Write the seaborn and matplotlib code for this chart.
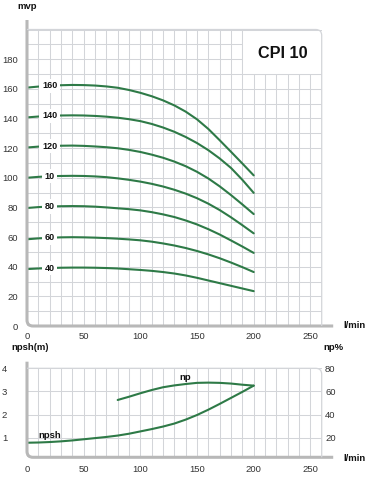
"""
CPI 10 pump curves: head (mvp) vs flow, plus npsh / efficiency panel
"""

import matplotlib
matplotlib.use('Agg')
import matplotlib.pyplot as plt
from matplotlib.path import Path
from matplotlib.patches import PathPatch, Rectangle
import seaborn as sns

# ========== DATA ==========
flow = [0, 10, 20, 30, 40, 50, 60, 70, 80, 90, 100,
        110, 120, 130, 140, 150, 160, 170, 180, 190, 200]

curve_labels = ['160', '140', '120', '10', '80', '60', '40']

head_160 = [160.8, 161.5, 162.0, 162.4, 162.6, 162.5, 162.2, 161.6, 160.7, 159.2, 157.3,
            155.0, 152.2, 148.8, 144.6, 139.4, 132.9, 125.3, 117.5, 109.6, 101.6]
head_140 = [140.7, 141.3, 141.7, 142.0, 142.1, 142.0, 141.7, 141.2, 140.5, 139.5, 138.2,
            136.3, 133.9, 131.0, 127.5, 123.4, 118.6, 113.0, 106.6, 98.6, 89.8]
head_120 = [120.4, 121.0, 121.4, 121.6, 121.7, 121.5, 121.1, 120.6, 119.9, 118.8, 117.4,
            115.6, 113.5, 110.9, 107.8, 104.0, 99.5, 94.2, 88.3, 82.0, 75.5]
head_100 = [100.0, 100.6, 101.0, 101.2, 101.3, 101.2, 100.9, 100.4, 99.6, 98.6, 97.4,
            95.9, 94.1, 91.9, 89.3, 86.2, 82.5, 78.2, 73.3, 68.0, 62.5]
head_80 = [79.6, 80.2, 80.6, 80.8, 80.9, 80.8, 80.5, 80.0, 79.4, 78.8, 78.0,
           76.8, 75.3, 73.5, 71.2, 68.5, 65.3, 61.7, 57.7, 53.6, 49.3]
head_60 = [58.5, 59.1, 59.5, 59.8, 59.9, 59.8, 59.6, 59.3, 58.9, 58.4, 57.8,
           56.9, 55.7, 54.3, 52.6, 50.6, 48.3, 45.7, 42.8, 39.7, 36.4]
head_40 = [38.4, 38.8, 39.1, 39.3, 39.4, 39.4, 39.3, 39.1, 38.8, 38.3, 37.8,
           37.2, 36.4, 35.4, 34.1, 32.5, 30.7, 28.9, 27.1, 25.3, 23.5]

heads = [head_160, head_140, head_120, head_100, head_80, head_60, head_40]

npsh_m = [0.78, 0.79, 0.81, 0.84, 0.88, 0.93, 0.98, 1.03, 1.09, 1.17, 1.27,
          1.37, 1.48, 1.61, 1.78, 1.98, 2.21, 2.46, 2.72, 2.98, 3.25]

eff_flow = [80, 90, 100, 110, 120, 130, 140, 150, 160, 170, 180, 190, 200]
eff_pct = [52.6, 55.4, 58.4, 61.2, 63.6, 65.2, 66.4, 67.4, 67.6, 67.4, 66.8, 65.8, 65.0]

x_ticks = [0, 50, 100, 150, 200, 250]
head_ticks = [0, 20, 40, 60, 80, 100, 120, 140, 160, 180]
npsh_ticks = [1, 2, 3, 4]
eff_ticks = [20, 40, 60, 80]

# ========== STYLE ==========
GREEN = '#2e7a47'
GRID = '#d3d5d9'
AXLINE = '#b8b8b8'
TICK = '#333333'

sns.set_theme(style='white')
plt.rcParams['font.family'] = ['Liberation Sans', 'DejaVu Sans']

W, H = 370, 480
fig = plt.figure(figsize=(W / 100, H / 100), dpi=100)
ax = fig.add_axes([27 / W, 1 - 326 / H, 294.7 / W, 296.5 / H])
axb = fig.add_axes([27 / W, 1 - 457.3 / H, 294.7 / W, 89 / H])


def frame(a, top_ext, right_ext, r=6):
    b = a.get_position()
    x0, x1, y0, y1 = b.x0 * W, b.x1 * W, b.y0 * H, b.y1 * H
    # thick left/bottom axis with rounded corner
    v = [(x0, y1 + top_ext), (x0, y0 + r), (x0, y0), (x0 + r, y0), (x1 + right_ext, y0)]
    c = [Path.MOVETO, Path.LINETO, Path.CURVE3, Path.CURVE3, Path.LINETO]
    v = [(p / W, q / H) for p, q in v]
    fig.patches.append(PathPatch(Path(v, c), fill=False, ec=AXLINE, lw=2.2,
                                 transform=fig.transFigure, capstyle='butt'))
    # thin top/right border with rounded corner
    v = [(x0, y1), (x1 - r, y1), (x1, y1), (x1, y1 - r), (x1, y0)]
    v = [(p / W, q / H) for p, q in v]
    fig.patches.append(PathPatch(Path(v, c), fill=False, ec=GRID, lw=0.9,
                                 transform=fig.transFigure))


def base_axes(a):
    for s in a.spines.values():
        s.set_visible(False)
    a.set_facecolor('white')
    a.set_axisbelow(True)
    a.grid(True, which='both', color=GRID, lw=0.75)
    a.tick_params(which='both', length=0, labelsize=6.8, labelcolor=TICK)
    a.set_xlabel('')
    a.set_ylabel('')


# ========== TOP: HEAD CURVES ==========
for lab, h in zip(curve_labels, heads):
    sns.lineplot(x=flow, y=h, color=GREEN, lw=1.5, ax=ax, legend=False)
    ax.text(flow[2], h[2], lab, ha='center', va='center', fontsize=6.5,
            fontweight='bold', color='#111111', zorder=5,
            bbox=dict(boxstyle='square,pad=0.3', fc='white', ec='none'))

ax.set_xlim(0, 260)
ax.set_ylim(0, 200)
ax.set_xticks(x_ticks)
ax.set_xticks(range(0, 261, 10), minor=True)
ax.set_yticks(head_ticks)
ax.set_yticks(range(0, 201, 10), minor=True)
base_axes(ax)
ax.tick_params(axis='x', pad=4)
ax.tick_params(axis='y', pad=6.5)

ax.add_patch(Rectangle((190, 170), 70, 30, fc='white', ec=GRID, lw=0.75, zorder=1))
ax.text(225.5, 184, 'CPI 10', ha='center', va='center', fontsize=11.7,
        fontweight='bold', color='#111111', zorder=6)

# ========== BOTTOM: NPSH + EFFICIENCY ==========
sns.lineplot(x=flow, y=npsh_m, color=GREEN, lw=1.5, ax=axb, legend=False)
axb.set_xlim(0, 260)
axb.set_ylim(0.15, 4)
axb.set_xticks(x_ticks)
axb.set_xticks(range(0, 261, 10), minor=True)
axb.set_yticks(npsh_ticks)
base_axes(axb)
axb.tick_params(axis='x', pad=5.8)
axb.tick_params(axis='y', pad=14.2)
axb.text(20, 1.11, 'npsh', ha='center', va='center', fontsize=6.8,
         fontweight='bold', color='#111111')
axb.text(140, 3.62, 'np', ha='center', va='center', fontsize=6.8,
         fontweight='bold', color='#111111')

ax2 = axb.twinx()
sns.lineplot(x=eff_flow, y=eff_pct, color=GREEN, lw=1.5, ax=ax2, legend=False)
ax2.set_ylim(0.15 * 20, 80)
ax2.set_yticks(eff_ticks)
for s in ax2.spines.values():
    s.set_visible(False)
ax2.grid(False)
ax2.set_ylabel('')
ax2.tick_params(length=0, labelsize=6.8, labelcolor=TICK, pad=2.4)

frame(ax, 9.5, 11.5)
frame(axb, 6.6, 11.5)

# ========== AXIS TITLES ==========
title_kw = dict(fontsize=6.8, fontweight='bold', color='#111111', va='baseline')
fig.text(27.5 / W, 1 - 9.3 / H, 'mvp', ha='center', **title_kw)
fig.text(343 / W, 1 - 328.3 / H, 'l/min', ha='left', **title_kw)
fig.text(11.7 / W, 1 - 350 / H, 'npsh(m)', ha='left', **title_kw)
fig.text(323.3 / W, 1 - 350 / H, 'np%', ha='left', **title_kw)
fig.text(343 / W, 1 - 461 / H, 'l/min', ha='left', **title_kw)

fig.savefig('out.png', dpi=100)
plt.close(fig)
